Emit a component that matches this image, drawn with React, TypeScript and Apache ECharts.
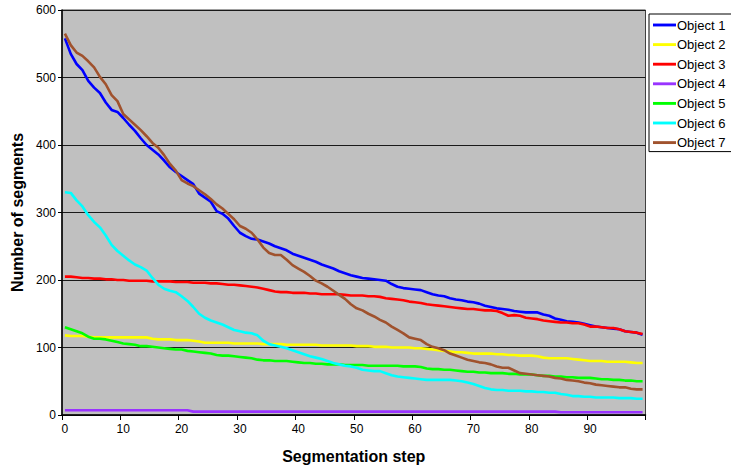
import React, { useEffect, useRef } from "react";
import * as echarts from "echarts";

// Segmentation steps 0..99
const steps: string[] = Array.from({ length: 100 }, (_, i) => String(i));

const object1 = [
  558, 535, 520, 511, 495, 485, 477, 463, 452, 449,
  440, 430, 421, 410, 400, 393, 386, 377, 367, 360,
  354, 348, 342, 328, 322, 316, 302, 298, 291, 280,
  270, 265, 261, 260, 257, 254, 250, 247, 244, 239,
  236, 233, 230, 227, 223, 220, 217, 213, 210, 207,
  205, 203, 202, 201, 200, 199, 194, 190, 188, 187,
  186, 185, 182, 179, 177, 176, 173, 171, 170, 168,
  167, 165, 162, 160, 158, 157, 156, 154, 153, 152,
  152, 152, 149, 147, 143, 141, 139, 138, 137, 135,
  133, 131, 130, 129, 128, 127, 124, 123, 122, 119,
];

const object2 = [
  118, 117, 117, 117, 116, 115, 115, 115, 115, 115,
  115, 115, 115, 115, 115, 113, 112, 112, 112, 111,
  111, 111, 110, 109, 107, 107, 107, 107, 107, 106,
  106, 106, 106, 106, 105, 105, 105, 105, 104, 104,
  104, 104, 104, 104, 103, 103, 103, 103, 103, 103,
  102, 102, 102, 101, 101, 101, 100, 100, 100, 100,
  99, 99, 98, 97, 96, 95, 94, 93, 93, 92,
  91, 91, 91, 91, 90, 90, 89, 89, 88, 88,
  88, 87, 85, 84, 84, 84, 84, 83, 82, 81,
  80, 80, 80, 79, 79, 79, 79, 78, 77, 77,
];

const object3 = [
  205, 205, 204, 203, 203, 202, 202, 201, 201, 200,
  200, 199, 199, 199, 199, 198, 198, 198, 198, 197,
  197, 197, 196, 196, 196, 195, 195, 194, 193, 193,
  192, 191, 190, 189, 187, 185, 183, 182, 182, 181,
  181, 181, 180, 180, 179, 179, 179, 179, 178, 177,
  177, 177, 176, 176, 175, 173, 172, 171, 170, 168,
  167, 166, 164, 163, 162, 161, 160, 159, 158, 157,
  157, 156, 155, 155, 154, 151, 147, 148, 147, 144,
  143, 142, 140, 139, 138, 137, 137, 136, 136, 134,
  131, 131, 130, 129, 129, 127, 124, 123, 122, 120,
];

const object4 = [
  7, 7, 7, 7, 7, 7, 7, 7, 7, 7,
  7, 7, 7, 7, 7, 7, 7, 7, 7, 7,
  7, 7, 5, 5, 5, 5, 5, 5, 5, 5,
  5, 5, 5, 5, 5, 5, 5, 5, 5, 5,
  5, 5, 5, 5, 5, 5, 5, 5, 5, 5,
  5, 5, 5, 5, 5, 5, 5, 5, 5, 5,
  5, 5, 5, 5, 5, 5, 5, 5, 5, 5,
  5, 5, 5, 5, 5, 5, 5, 5, 5, 5,
  5, 5, 5, 5, 5, 4, 4, 4, 4, 4,
  4, 4, 4, 4, 4, 4, 4, 4, 4, 4,
];

const object5 = [
  130, 127, 124, 121, 116, 113, 113, 112, 110, 108,
  106, 105, 104, 102, 102, 101, 100, 99, 98, 97,
  97, 95, 94, 93, 92, 91, 89, 88, 88, 87,
  86, 85, 84, 82, 81, 81, 80, 80, 80, 79,
  78, 77, 77, 76, 76, 75, 75, 75, 74, 74,
  74, 74, 73, 73, 73, 73, 73, 73, 72, 72,
  72, 71, 69, 68, 68, 67, 67, 66, 65, 64,
  64, 63, 63, 62, 62, 62, 61, 61, 60, 60,
  60, 59, 58, 58, 57, 57, 56, 56, 55, 55,
  55, 54, 53, 53, 52, 52, 51, 51, 50, 50,
];

const object6 = [
  330, 329, 318, 309, 296, 286, 278, 266, 252, 243,
  236, 229, 223, 219, 214, 203, 193, 187, 184, 182,
  176, 169, 160, 150, 144, 140, 137, 134, 130, 126,
  124, 122, 121, 118, 110, 105, 103, 101, 99, 96,
  93, 90, 87, 85, 83, 80, 77, 75, 73, 72,
  70, 67, 66, 65, 65, 62, 59, 57, 56, 55,
  54, 53, 52, 52, 52, 52, 52, 51, 50, 48,
  46, 43, 40, 38, 37, 37, 36, 36, 36, 35,
  35, 34, 34, 33, 33, 31, 30, 28, 28, 27,
  27, 26, 26, 26, 26, 25, 25, 25, 24, 24,
];

const object7 = [
  565, 548, 537, 532, 524, 515, 501, 490, 474, 465,
  446, 438, 430, 422, 413, 403, 396, 385, 372, 362,
  348, 343, 339, 333, 327, 320, 312, 306, 298, 290,
  280, 276, 270, 260, 248, 240, 237, 237, 230, 222,
  217, 212, 206, 199, 195, 190, 184, 178, 172, 164,
  158, 155, 150, 146, 141, 137, 131, 126, 121, 115,
  113, 111, 105, 101, 99, 96, 91, 88, 85, 82,
  80, 78, 77, 75, 72, 70, 70, 66, 62, 61,
  60, 59, 58, 57, 55, 54, 52, 51, 50, 48,
  47, 45, 44, 43, 42, 41, 41, 39, 38, 38,
];

const seriesNames = ["Object 1", "Object 2", "Object 3", "Object 4", "Object 5", "Object 6", "Object 7"];
const seriesData = [object1, object2, object3, object4, object5, object6, object7];
const seriesColors = ["#0000FF", "#FFFF00", "#FF0000", "#9933FF", "#00FF00", "#00FFFF", "#A0522D"];

const FONT = "'Liberation Sans', Arial, sans-serif";

// Thin horizontal bar used as the legend's line sample
const LEGEND_LINE = "path://M0,0L24,0L24,3L0,3Z";

export default function App() {
  const ref = useRef<HTMLDivElement>(null);

  useEffect(() => {
    if (!ref.current) return;
    const chart = echarts.init(ref.current, undefined, { renderer: "svg" });

    chart.setOption({
      animation: false,
      backgroundColor: "#FFFFFF",
      textStyle: { fontFamily: FONT },
      grid: {
        left: 62,
        right: 85.5,
        top: 10,
        bottom: 53.5,
        show: true,
        backgroundColor: "#C0C0C0",
        borderColor: "#404040",
        borderWidth: 1,
      },
      legend: {
        orient: "vertical",
        left: 649,
        top: 14,
        padding: [4.5, 30, 2.5, 4],
        itemWidth: 23,
        itemHeight: 3,
        itemGap: 6.6,
        borderColor: "#000000",
        borderWidth: 1,
        backgroundColor: "#FFFFFF",
        textStyle: { fontFamily: FONT, fontSize: 13, color: "#000000", padding: [0, 0, 0, -4] },
        data: seriesNames.map((n) => ({ name: n, icon: LEGEND_LINE })),
      },
      xAxis: {
        type: "category",
        data: steps,
        boundaryGap: true,
        name: "Segmentation step",
        nameLocation: "middle",
        nameGap: 33,
        nameTextStyle: { fontFamily: FONT, fontSize: 16, fontWeight: "bold", color: "#000000" },
        axisLine: { lineStyle: { color: "#000000", width: 1.5 } },
        axisTick: { show: true, interval: 9, length: 5, lineStyle: { color: "#000000" } },
        axisLabel: { interval: 9, fontSize: 12, color: "#000000", margin: 8, fontFamily: FONT },
        splitLine: { show: false },
      },
      yAxis: {
        type: "value",
        min: 0,
        max: 600,
        interval: 100,
        name: "Number of segments",
        nameLocation: "middle",
        nameGap: 37,
        nameRotate: 90,
        nameTextStyle: { fontFamily: FONT, fontSize: 16, fontWeight: "bold", color: "#000000" },
        axisLine: { show: true, lineStyle: { color: "#000000", width: 1.5 } },
        axisTick: { show: true, length: 4, lineStyle: { color: "#000000" } },
        axisLabel: { fontSize: 12, color: "#000000", margin: 6, fontFamily: FONT },
        splitLine: { show: true, lineStyle: { color: "#1A1A1A", width: 1 } },
      },
      series: seriesNames.map((name, k) => ({
        name,
        type: "line",
        data: seriesData[k],
        symbol: "none",
        showSymbol: false,
        smooth: false,
        lineStyle: { color: seriesColors[k], width: 2.6 },
        itemStyle: { color: seriesColors[k] },
        z: 3 + k,
      })),
    });

    return () => chart.dispose();
  }, []);

  return <div ref={ref} style={{ width: 731, height: 469, position: "absolute", left: 0, top: 0 }} />;
}
